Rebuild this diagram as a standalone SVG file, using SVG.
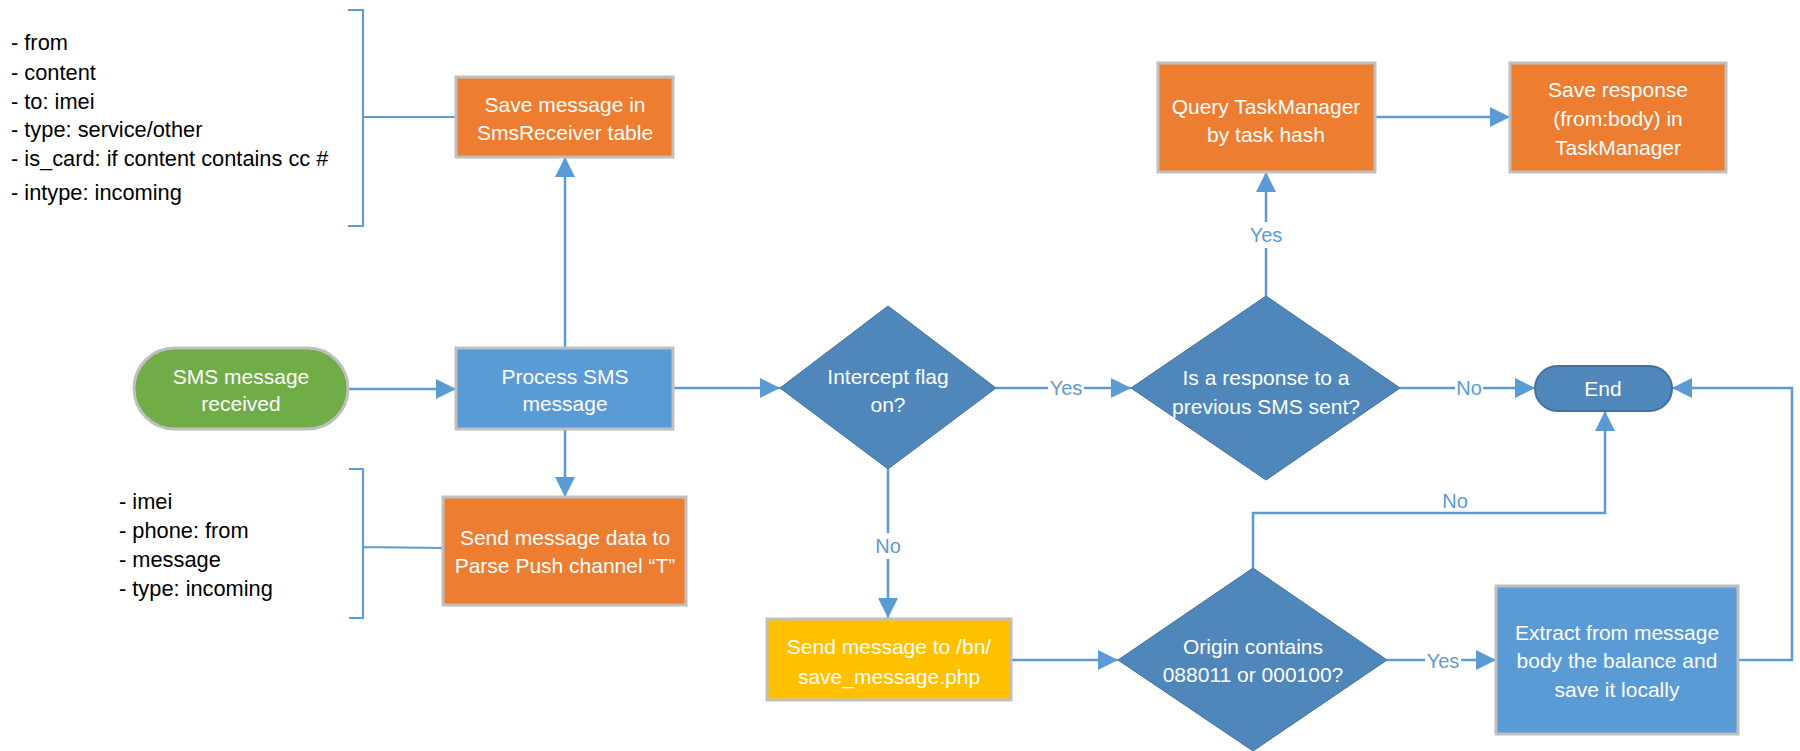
<svg xmlns="http://www.w3.org/2000/svg" width="1800" height="751" viewBox="0 0 1800 751">
  <defs>
    <marker id="arrow" markerUnits="userSpaceOnUse" markerWidth="20" markerHeight="20" refX="20" refY="10" orient="auto">
      <path d="M0,0 L20,10 L0,20 Z" fill="#5B9BD5"/>
    </marker>
    <style>
      .box { stroke: #BFBFBF; stroke-width: 3; }
      .orange { fill: #ED7D31; }
      .blue { fill: #5B9BD5; }
      .green { fill: #70AD47; }
      .yellow { fill: #FFC000; }
      .decision { fill: #4F87BA; stroke: #41719C; stroke-width: 1; }
      .terminal { fill: #4F87BA; stroke: #41719C; stroke-width: 2; }
      .lbl { font-family: "Liberation Sans", Arial, sans-serif; font-size: 21px; fill: #FFFFFF; text-anchor: middle; }
      .note { font-family: "Liberation Sans", Arial, sans-serif; font-size: 21.8px; fill: #000000; }
      .edge { font-family: "Liberation Sans", Arial, sans-serif; font-size: 20px; fill: #5B9BD5; text-anchor: middle; }
      .conn { fill: none; stroke: #5B9BD5; stroke-width: 2.5; }
      .arr { marker-end: url(#arrow); }
      .bracket { fill: none; stroke: #5B9BD5; stroke-width: 2; }
    </style>
  </defs>

  <!-- connectors -->
  <g id="connectors">
    <path class="conn arr" d="M348,389 H456"/>
    <path class="conn arr" d="M565,348 V157"/>
    <path class="conn arr" d="M565,429 V497"/>
    <path class="conn arr" d="M673,388 H780"/>
    <path class="conn arr" d="M996,388 H1131"/>
    <path class="conn arr" d="M1266,296 V172"/>
    <path class="conn arr" d="M1375,117 H1510"/>
    <path class="conn arr" d="M1400,388 H1535"/>
    <path class="conn arr" d="M888,469 V618"/>
    <path class="conn arr" d="M1011,660 H1118"/>
    <path class="conn arr" d="M1387,660 H1496"/>
    <path class="conn arr" d="M1253,568 V513 H1605 V411"/>
    <path class="conn arr" d="M1738,660 H1792 V388 H1672"/>

    <!-- edge labels -->
    <rect x="1048" y="376" width="36" height="24" fill="#FFFFFF"/>
    <text class="edge" x="1066" y="395">Yes</text>
    <rect x="1248" y="222" width="36" height="26" fill="#FFFFFF"/>
    <text class="edge" x="1266" y="242">Yes</text>
    <rect x="1455" y="376" width="28" height="24" fill="#FFFFFF"/>
    <text class="edge" x="1469" y="395">No</text>
    <rect x="874" y="533" width="28" height="26" fill="#FFFFFF"/>
    <text class="edge" x="888" y="553">No</text>
    <rect x="1425" y="649" width="36" height="24" fill="#FFFFFF"/>
    <text class="edge" x="1443" y="668">Yes</text>
    <text class="edge" x="1455" y="508">No</text>

    <!-- annotation brackets -->
    <path class="bracket" d="M348,10 H363 V226 H348 M363,117 H456"/>
    <path class="bracket" d="M349,469 H363 V618 H349 M363,547 L443,548"/>
  </g>

  <!-- annotation texts -->
  <g id="note-smsreceiver">
    <text class="note" x="11" y="50">- from</text>
    <text class="note" x="11" y="80">- content</text>
    <text class="note" x="11" y="109">- to: imei</text>
    <text class="note" x="11" y="137">- type: service/other</text>
    <text class="note" x="11" y="166">- is_card: if content contains cc #</text>
    <text class="note" x="11" y="200">- intype: incoming</text>
  </g>
  <g id="note-push">
    <text class="note" x="119" y="509">- imei</text>
    <text class="note" x="119" y="538">- phone: from</text>
    <text class="note" x="119" y="567">- message</text>
    <text class="note" x="119" y="596">- type: incoming</text>
  </g>

  <!-- nodes -->
  <g id="sms-received">
    <rect class="box green" x="134" y="348" width="214" height="81" rx="40.5"/>
    <text class="lbl" x="241" y="384">SMS message</text>
    <text class="lbl" x="241" y="411">received</text>
  </g>
  <g id="process-sms">
    <rect class="box blue" x="456" y="348" width="217" height="81"/>
    <text class="lbl" x="565" y="384">Process SMS</text>
    <text class="lbl" x="565" y="411">message</text>
  </g>
  <g id="save-smsreceiver">
    <rect class="box orange" x="456" y="77" width="217" height="80"/>
    <text class="lbl" x="565" y="112">Save message in</text>
    <text class="lbl" x="565" y="140">SmsReceiver table</text>
  </g>
  <g id="send-parse-push">
    <rect class="box orange" x="443" y="497" width="243" height="108"/>
    <text class="lbl" x="565" y="545">Send message data to</text>
    <text class="lbl" x="565" y="573">Parse Push channel “T”</text>
  </g>
  <g id="intercept-flag">
    <polygon class="decision" points="888,306 996,388 888,469 780,388"/>
    <text class="lbl" x="888" y="384">Intercept flag</text>
    <text class="lbl" x="888" y="412">on?</text>
  </g>
  <g id="is-response">
    <polygon class="decision" points="1266,296 1400,388 1266,480 1131,388"/>
    <text class="lbl" x="1266" y="385">Is a response to a</text>
    <text class="lbl" x="1266" y="414">previous SMS sent?</text>
  </g>
  <g id="query-taskmanager">
    <rect class="box orange" x="1158" y="63" width="217" height="109"/>
    <text class="lbl" x="1266" y="114">Query TaskManager</text>
    <text class="lbl" x="1266" y="142">by task hash</text>
  </g>
  <g id="save-response">
    <rect class="box orange" x="1510" y="63" width="216" height="109"/>
    <text class="lbl" x="1618" y="97">Save response</text>
    <text class="lbl" x="1618" y="126">(from:body) in</text>
    <text class="lbl" x="1618" y="155">TaskManager</text>
  </g>
  <g id="end">
    <rect class="terminal" x="1535" y="366" width="137" height="45" rx="22.5"/>
    <text class="lbl" x="1603" y="396">End</text>
  </g>
  <g id="send-save-message">
    <rect class="box yellow" x="767" y="619" width="244" height="81"/>
    <text class="lbl" x="889" y="654">Send message to /bn/</text>
    <text class="lbl" x="889" y="684">save_message.php</text>
  </g>
  <g id="origin-check">
    <polygon class="decision" points="1253,568 1387,660 1253,751 1118,660"/>
    <text class="lbl" x="1253" y="654">Origin contains</text>
    <text class="lbl" x="1253" y="682">088011 or 000100?</text>
  </g>
  <g id="extract-balance">
    <rect class="box blue" x="1496" y="586" width="242" height="148"/>
    <text class="lbl" x="1617" y="640">Extract from message</text>
    <text class="lbl" x="1617" y="668">body the balance and</text>
    <text class="lbl" x="1617" y="697">save it locally</text>
  </g>
</svg>
